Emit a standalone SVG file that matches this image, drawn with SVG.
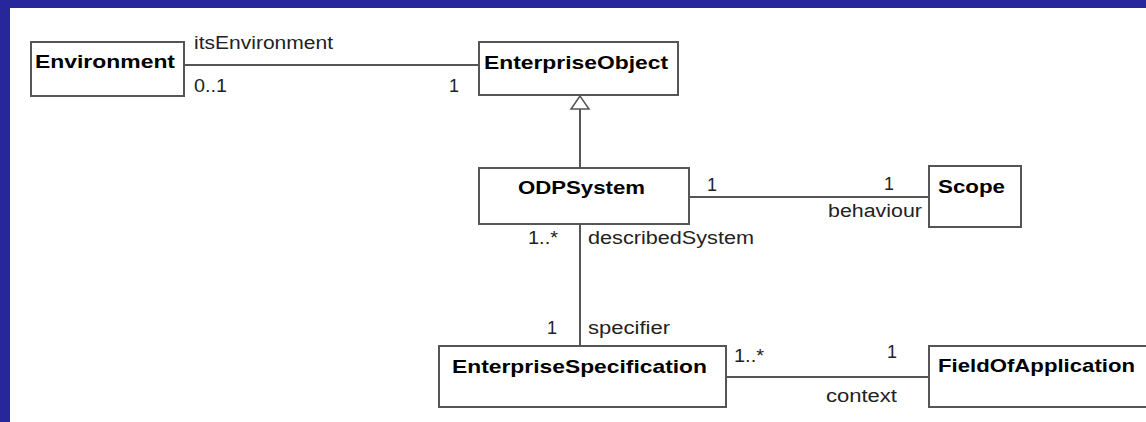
<svg xmlns="http://www.w3.org/2000/svg" width="1146" height="422" viewBox="0 0 1146 422">
<style>
.box{fill:#fff;stroke:#555;stroke-width:2}
.ln{fill:none;stroke:#555;stroke-width:2}
.nm{font-family:"Liberation Sans",Arial,sans-serif;font-weight:bold;font-size:19px;fill:#000}
.lb{font-family:"Liberation Sans",Arial,sans-serif;font-size:18px;fill:#222}
</style>
<rect x="0" y="0" width="1146" height="422" fill="#fff"/>
<rect x="0" y="0" width="1146" height="8" fill="#27279b"/>
<rect x="0" y="0" width="10" height="422" fill="#27279b"/>
<g id="connectors">
<line class="ln" x1="184" y1="65" x2="479" y2="65"/>
<line class="ln" x1="580" y1="109" x2="580" y2="168"/>
<polygon points="580,96 571,109 589,109" fill="#fff" stroke="#555" stroke-width="1.5"/>
<line class="ln" x1="689" y1="197" x2="929" y2="197"/>
<line class="ln" x1="580" y1="224" x2="580" y2="346"/>
<line class="ln" x1="726" y1="377" x2="929" y2="377"/>
<text class="lb" x="194" y="49" textLength="139" lengthAdjust="spacingAndGlyphs">itsEnvironment</text>
<text class="lb" x="194" y="92" textLength="33" lengthAdjust="spacingAndGlyphs">0..1</text>
<text class="lb" x="449" y="92">1</text>
<text class="lb" x="707" y="191">1</text>
<text class="lb" x="884" y="190">1</text>
<text class="lb" x="828" y="217" textLength="94" lengthAdjust="spacingAndGlyphs">behaviour</text>
<text class="lb" x="528" y="244" textLength="30" lengthAdjust="spacingAndGlyphs">1..*</text>
<text class="lb" x="588" y="244" textLength="166" lengthAdjust="spacingAndGlyphs">describedSystem</text>
<text class="lb" x="547" y="334">1</text>
<text class="lb" x="588" y="334" textLength="82" lengthAdjust="spacingAndGlyphs">specifier</text>
<text class="lb" x="734" y="362" textLength="30" lengthAdjust="spacingAndGlyphs">1..*</text>
<text class="lb" x="887" y="358">1</text>
<text class="lb" x="826" y="402" textLength="71" lengthAdjust="spacingAndGlyphs">context</text>
</g>
<g id="Environment">
<rect class="box" x="31" y="42" width="153" height="54"/>
<text class="nm" x="35" y="68" textLength="140" lengthAdjust="spacingAndGlyphs">Environment</text>
</g>
<g id="EnterpriseObject">
<rect class="box" x="479" y="42" width="199" height="53"/>
<text class="nm" x="484" y="69" textLength="184" lengthAdjust="spacingAndGlyphs">EnterpriseObject</text>
</g>
<g id="ODPSystem">
<rect class="box" x="479" y="168" width="210" height="56"/>
<text class="nm" x="518" y="194" textLength="127" lengthAdjust="spacingAndGlyphs">ODPSystem</text>
</g>
<g id="Scope">
<rect class="box" x="929" y="166" width="92" height="61"/>
<text class="nm" x="938" y="193" textLength="67" lengthAdjust="spacingAndGlyphs">Scope</text>
</g>
<g id="EnterpriseSpecification">
<rect class="box" x="439" y="346" width="287" height="61"/>
<text class="nm" x="452" y="373" textLength="255" lengthAdjust="spacingAndGlyphs">EnterpriseSpecification</text>
</g>
<g id="FieldOfApplication">
<rect class="box" x="929" y="346" width="230" height="61"/>
<text class="nm" x="938" y="372" textLength="197" lengthAdjust="spacingAndGlyphs">FieldOfApplication</text>
</g>
</svg>
